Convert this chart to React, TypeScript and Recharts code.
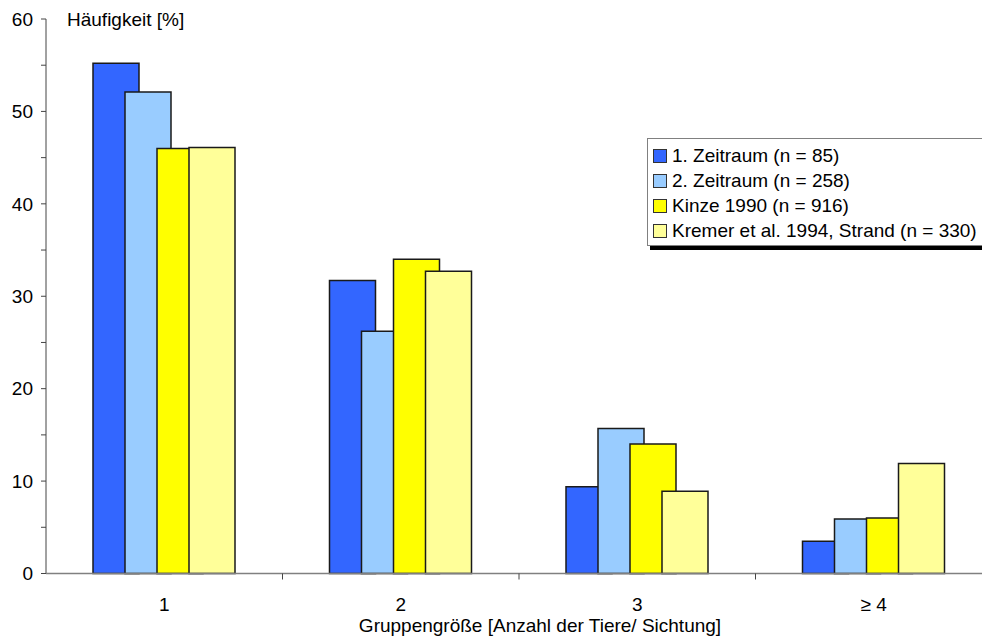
import { Bar, BarChart, Legend, XAxis, YAxis } from 'recharts';

const categories = ['1', '2', '3', '≥ 4'];
const zeitraum1 = [55.2, 31.7, 9.4, 3.5];
const zeitraum2 = [52.1, 26.2, 15.7, 5.9];
const kinze1990 = [46.0, 34.0, 14.0, 6.0];
const kremer1994 = [46.1, 32.7, 8.9, 11.9];
const yTicks = [0, 5, 10, 15, 20, 25, 30, 35, 40, 45, 50, 55, 60];

const font = '"Liberation Sans", Arial, sans-serif';
const fontSize = 19;
const xTickSize = 6;
const xTickMargin = 18;

const data = categories.map((group, i) => ({
  group,
  z1: zeitraum1[i],
  z2: zeitraum2[i],
  kinze: kinze1990[i],
  kremer: kremer1994[i],
}));

// category label in the middle, small tick mark on the right boundary of each band
function CategoryTick({ x, y, payload }: any) {
  const axisY = y - xTickSize - xTickMargin;
  const half = payload?.offset ?? 0;
  return (
    <g>
      <line x1={x + half} x2={x + half} y1={axisY} y2={axisY + xTickSize} stroke="#444" />
      <text
        x={x}
        y={y}
        dy="0.71em"
        textAnchor="middle"
        fill="#000"
        fontSize={fontSize}
        fontFamily={font}
      >
        {payload.value}
      </text>
    </g>
  );
}

function LegendBox({ payload }: any) {
  return (
    <div
      style={{
        border: '1px solid #808080',
        boxShadow: '3px 4px 0 #000',
        background: '#fff',
        padding: '4px 30px 2px 5px',
        fontFamily: font,
        fontSize,
        color: '#000',
      }}
    >
      {(payload || []).map((entry: any) => (
        <div
          key={entry.value}
          style={{ display: 'flex', alignItems: 'center', height: 25, whiteSpace: 'nowrap' }}
        >
          <span
            style={{
              display: 'inline-block',
              width: 12,
              height: 12,
              background: entry.color,
              border: '1px solid #333',
              marginRight: 5,
            }}
          />
          {entry.value}
        </div>
      ))}
    </div>
  );
}

export default function App() {
  return (
    <div
      style={{
        position: 'absolute',
        left: 0,
        top: 0,
        width: 982,
        height: 640,
        overflow: 'hidden',
        background: '#fff',
      }}
    >
      <BarChart
        width={1000}
        height={640}
        data={data}
        margin={{ top: 19, right: 8, bottom: 0, left: 0 }}
        barSize={46}
        barGap={-14}
        style={{ fontFamily: font }}
      >
        <YAxis
          domain={[0, 60]}
          ticks={yTicks}
          width={46}
          tickSize={5}
          tickMargin={8}
          interval={0}
          stroke="#444"
          tick={{ fill: '#000', fontSize, fontFamily: font }}
          tickFormatter={(v: number) => (v % 10 === 0 ? String(v) : '')}
          label={{
            value: 'Häufigkeit [%]',
            content: ({ viewBox }: any) => (
              <text
                x={viewBox.x + viewBox.width + 21}
                y={viewBox.y}
                dy="0.35em"
                fill="#000"
                fontSize={fontSize}
                fontFamily={font}
              >
                Häufigkeit [%]
              </text>
            ),
          }}
        />
        <XAxis
          dataKey="group"
          height={66.5}
          interval={0}
          tickLine={false}
          tickSize={xTickSize}
          tickMargin={xTickMargin}
          axisLine={{ stroke: '#808080', strokeWidth: 1.5 }}
          tick={<CategoryTick />}
          label={{
            value: 'Gruppengröße [Anzahl der Tiere/ Sichtung]',
            content: ({ viewBox }: any) => (
              <text
                x={viewBox.x + viewBox.width / 2 + 21}
                y={viewBox.y + viewBox.height - 8}
                textAnchor="middle"
                fill="#000"
                fontSize={fontSize}
                fontFamily={font}
              >
                Gruppengröße [Anzahl der Tiere/ Sichtung]
              </text>
            ),
          }}
        />
        <Legend
          layout="vertical"
          align="center"
          verticalAlign="middle"
          content={<LegendBox />}
          wrapperStyle={{ left: 647, top: 138 }}
        />
        <Bar dataKey="z1" name="1. Zeitraum (n = 85)" fill="#3366FF" stroke="#1a1a1a" strokeWidth={1.5} isAnimationActive={false} />
        <Bar dataKey="z2" name="2. Zeitraum (n = 258)" fill="#99CCFF" stroke="#1a1a1a" strokeWidth={1.5} isAnimationActive={false} />
        <Bar dataKey="kinze" name="Kinze 1990 (n = 916)" fill="#FFFF00" stroke="#1a1a1a" strokeWidth={1.5} isAnimationActive={false} />
        <Bar dataKey="kremer" name="Kremer et al. 1994, Strand (n = 330)" fill="#FFFF99" stroke="#1a1a1a" strokeWidth={1.5} isAnimationActive={false} />
      </BarChart>
    </div>
  );
}
